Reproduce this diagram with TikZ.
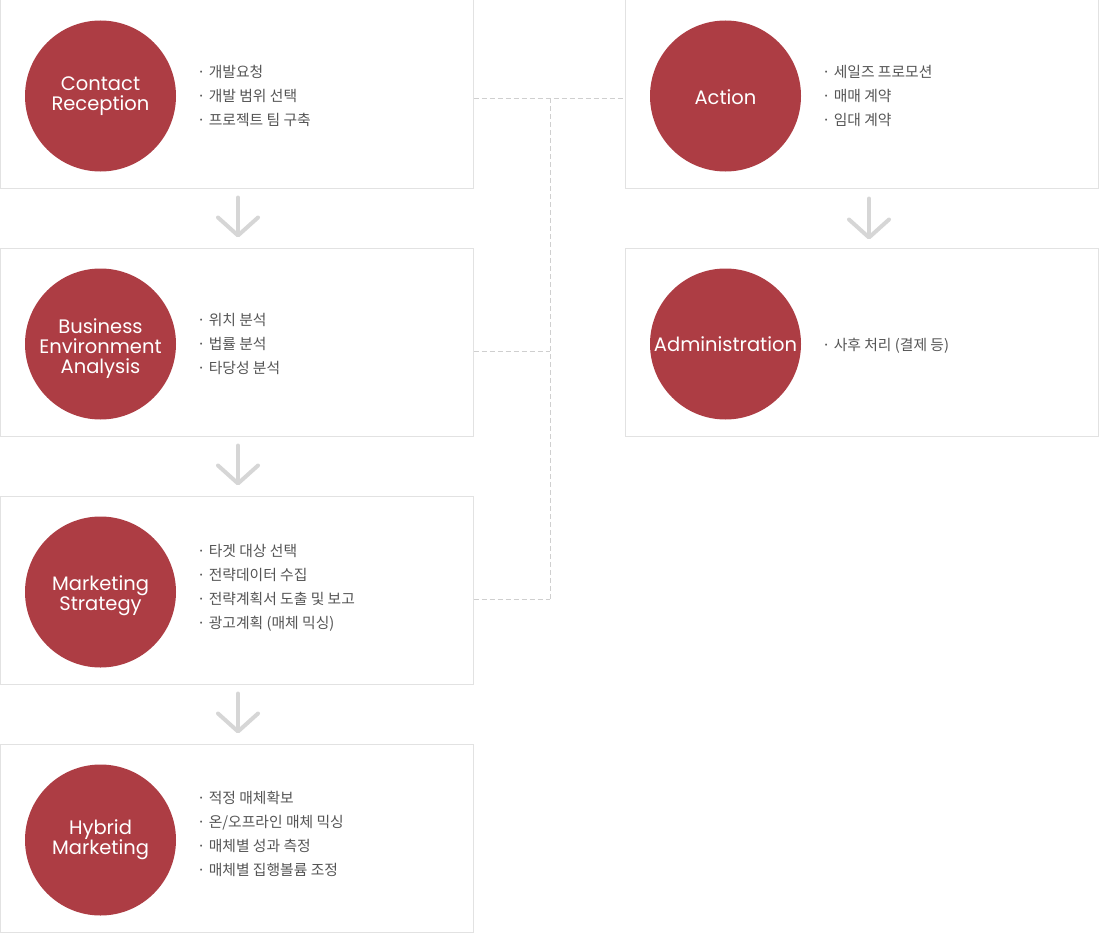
\documentclass[tikz,border=0pt]{standalone}
\usepackage{fontspec}
\newfontfamily\circfont{Poppins}
\newfontfamily\kofont{Noto Sans CJK KR}
\usetikzlibrary{arrows.meta,calc}
\definecolor{circred}{HTML}{AD3D44}
\definecolor{boxline}{HTML}{E2E2E2}
\definecolor{chevgray}{HTML}{D6D6D6}
\definecolor{dashgray}{HTML}{CFCFCF}
\definecolor{txtgray}{HTML}{555555}
\begin{document}
\begin{tikzpicture}[x=1pt,y=-1pt,
  box/.style={draw=boxline,line width=1pt,fill=white,minimum width=473pt,minimum height=188pt,inner sep=0pt},
  circ/.style={circle,fill=circred,minimum size=151pt,inner sep=0pt},
  clabel/.style={inner sep=0pt,text=white,align=center,
    font=\circfont\fontsize{19.5pt}{20pt}\selectfont},
  items/.style={anchor=west,inner sep=0pt,align=left,text=txtgray,
    font=\kofont\fontsize{14.8pt}{24pt}\selectfont},
  chev/.style={draw=chevgray,line width=4pt,line cap=round,
    -{Straight Barb[length=18pt,width=40pt,round]}},
  dashline/.style={draw=dashgray,line width=1pt,dash pattern=on 5pt off 3pt}]
\useasboundingbox (0,0) rectangle (1100,934);
% left column boxes
\node[box] (b1) at (236.5,94) {};
\node[box] (b2) at (236.5,342) {};
\node[box] (b3) at (236.5,590) {};
\node[box] (b4) at (236.5,838) {};
% right column boxes
\node[box] (r1) at (861.5,94) {};
\node[box] (r2) at (861.5,342) {};
% circles
\node[circ] (c1) at (100.5,96) {};
\node[circ] (c2) at (100.5,344) {};
\node[circ] (c3) at (100.5,592) {};
\node[circ] (c4) at (100.5,840) {};
\node[circ] (d1) at (725.5,96) {};
\node[circ] (d2) at (725.5,344) {};
\node[clabel] (l1) at ($(c1)+(0,0)$) {Contact\\Reception};
\node[clabel] (l2) at ($(c2)+(0,5)$) {Business\\Environment\\Analysis};
\node[clabel] (l3) at ($(c3)+(0,4)$) {Marketing\\Strategy};
\node[clabel] (l4) at ($(c4)+(0,0)$) {Hybrid\\Marketing};
\node[clabel] (m1) at ($(d1)+(0,1)$) {Action};
\node[clabel] (m2) at ($(d2)+(0,0)$) {Administration};
% item texts
\node[items] (t1) at (197,96) {· 개발요청\\· 개발 범위 선택\\· 프로젝트 팀 구축};
\node[items] (t2) at (197,344) {· 위치 분석\\· 법률 분석\\· 타당성 분석};
\node[items] (t3) at (197,588) {· 타겟 대상 선택\\· 전략데이터 수집\\· 전략계획서 도출 및 보고\\· 광고계획 (매체 믹싱)};
\node[items] (t4) at (197,834) {· 적정 매체확보\\· 온/오프라인 매체 믹싱\\· 매체별 성과 측정\\· 매체별 집행볼륨 조정};
\node[items] (u1) at (822,96) {· 세일즈 프로모션\\· 매매 계약\\· 임대 계약};
\node[items] (u2) at (822,346) {· 사후 처리 (결제 등)};
% chevron arrows
\draw[chev] ($(b1.south)+(1.5,9)$) -- ($(b2.north)+(1.5,-10)$);
\draw[chev] ($(b2.south)+(1.5,9)$) -- ($(b3.north)+(1.5,-10)$);
\draw[chev] ($(b3.south)+(1.5,9)$) -- ($(b4.north)+(1.5,-10)$);
\draw[chev] ($(r1.south)+(7.5,10)$) -- ($(r2.north)+(7.5,-8)$);
% dashed connectors
\coordinate (j1) at (550,98);
\coordinate (j2) at (550,351);
\coordinate (j3) at (550,599);
\draw[dashline] ([yshift=-4pt]b1.east) -- ([yshift=-4pt]r1.west);
\draw[dashline] (j1) -- (j3);
\draw[dashline] ([yshift=-9pt]b2.east) -- (j2);
\draw[dashline] ([yshift=-9pt]b3.east) -- (j3);
\end{tikzpicture}
\end{document}
